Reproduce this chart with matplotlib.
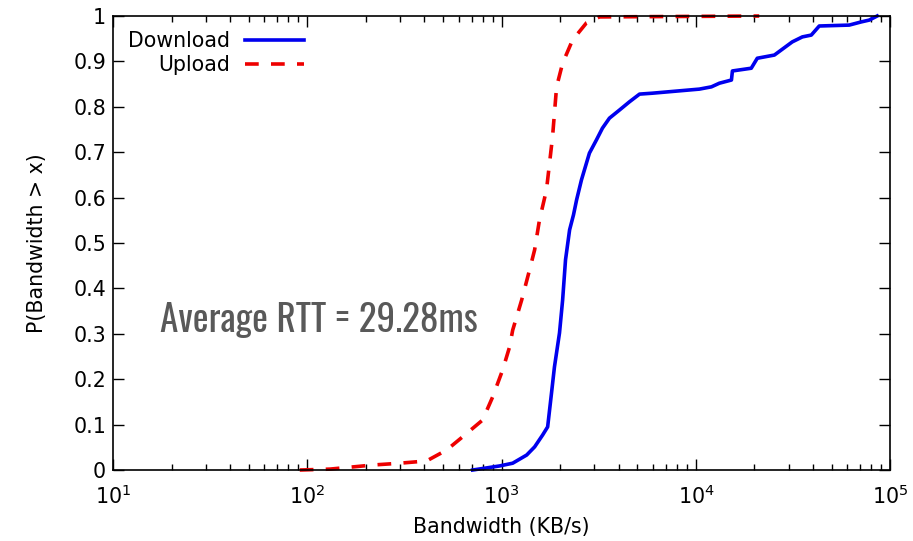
import numpy as np
import matplotlib
matplotlib.use("Agg")
import matplotlib.pyplot as plt
from matplotlib import font_manager
from matplotlib.ticker import LogLocator, NullFormatter

# CDF points (log10 of KB/s, probability)
down_log = [2.851, 2.990, 3.057, 3.129, 3.170, 3.211, 3.237, 3.257, 3.272, 3.298,
            3.314, 3.329, 3.350, 3.370, 3.386, 3.411, 3.452, 3.488, 3.519, 3.555,
            3.607, 3.658, 3.710, 3.776, 4.018, 4.080, 4.121, 4.183, 4.188, 4.285,
            4.316, 4.404, 4.496, 4.548, 4.594, 4.635, 4.789, 4.851, 4.892, 4.933]
down_p = [0.0, 0.009, 0.015, 0.033, 0.051, 0.077, 0.095, 0.170, 0.227, 0.302,
          0.374, 0.463, 0.529, 0.562, 0.595, 0.639, 0.698, 0.727, 0.753, 0.775,
          0.793, 0.811, 0.828, 0.830, 0.839, 0.844, 0.852, 0.859, 0.879, 0.885,
          0.907, 0.914, 0.943, 0.954, 0.958, 0.978, 0.980, 0.987, 0.991, 1.0]

up_log = [1.961, 2.116, 2.337, 2.476, 2.614, 2.717, 2.799, 2.902, 2.954, 3.005,
          3.041, 3.057, 3.103, 3.144, 3.170, 3.195, 3.231, 3.262, 3.283, 3.314,
          3.365, 3.437, 3.504, 4.326]
up_p = [0.0, 0.002, 0.011, 0.015, 0.020, 0.044, 0.073, 0.110, 0.161, 0.220,
        0.271, 0.308, 0.374, 0.441, 0.485, 0.551, 0.617, 0.733, 0.844, 0.896,
        0.947, 0.985, 0.998, 1.0]

ytick_labels = ["0", "0.1", "0.2", "0.3", "0.4", "0.5", "0.6", "0.7", "0.8", "0.9", "1"]
note = "Average RTT = 29.28ms"

down_x = 10 ** np.array(down_log)
up_x = 10 ** np.array(up_log)

plt.rcParams['font.family'] = ['DejaVu Sans']
fs = 14.8

# pick a narrow face for the big note if one is installed
fonts = font_manager.fontManager.ttflist
names = {f.name for f in fonts}
note_font = dict(family=["DejaVu Sans"], stretch="normal")
for cand in ["Oswald", "Roboto Condensed", "Liberation Sans Narrow", "Open Sans Condensed",
             "Noto Sans Condensed", "Arial Narrow"]:
    if cand in names:
        note_font = dict(family=[cand, "DejaVu Sans"], stretch="normal")
        break
else:
    for f in fonts:
        if f.name in ("Noto Sans", "DejaVu Sans", "Roboto", "Open Sans") and \
                str(f.stretch) in ("condensed", "semi-condensed", "extra-condensed", "75", "87"):
            note_font = dict(family=[f.name], stretch="condensed")
            break

fig = plt.figure(figsize=(9.13, 5.41), dpi=100)
ax = fig.add_axes([0.1238, 0.1312, 0.8512, 0.8392])

ax.plot(down_x, down_p, color="#0000ee", linewidth=2.6, label="Download", clip_on=False)
ax.plot(up_x, up_p, color="#ee0000", linewidth=2.6, linestyle=(0, (3.8, 3.4)),
        label="Upload", clip_on=False)

ax.set_xscale("log")
ax.set_xlim(10, 1e5)
ax.set_ylim(0, 1)
ax.set_yticks(np.arange(0, 1.01, 0.1))
ax.set_yticklabels(ytick_labels)
ax.xaxis.set_minor_locator(LogLocator(base=10, subs=np.arange(2, 10)))
ax.xaxis.set_minor_formatter(NullFormatter())

ax.tick_params(which="both", direction="in", top=True, right=True, labelsize=fs, colors="black")
ax.tick_params(which="major", length=8, width=1)
ax.tick_params(which="minor", length=4.5, width=1)
ax.tick_params(axis="x", pad=10)
ax.tick_params(axis="y", pad=5)
for s in ax.spines.values():
    s.set_linewidth(1.2)

ax.set_xlabel("Bandwidth (KB/s)", fontsize=fs, labelpad=7)
ax.set_ylabel("P(Bandwidth > x)", fontsize=fs, labelpad=19)

leg = ax.legend(loc="upper left", bbox_to_anchor=(0.0, 1.0), frameon=False, fontsize=fs,
                markerfirst=False, handlelength=2.9, handletextpad=0.7,
                labelspacing=0.17, borderaxespad=0.45, borderpad=0.3)

txt = ax.text(0.265, 0.33, note, transform=ax.transAxes,
              fontsize=30, color="#595959", va="center", ha="center", **note_font)
# shrink the note until it is about as wide as in the reference
fig.canvas.draw()
w = txt.get_window_extent().width
if w > 318:
    txt.set_fontsize(30 * 318 / w)

fig.savefig("out.png", dpi=100)
